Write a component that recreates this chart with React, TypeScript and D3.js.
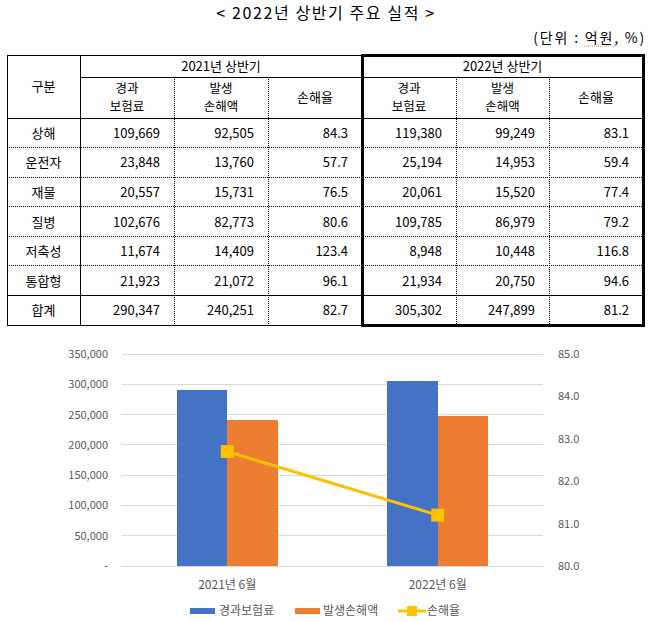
import React from 'react';
import * as d3 from 'd3';

const categories = ['상해', '운전자', '재물', '질병', '저축성', '통합형', '합계'];
const premium2021 = [109669, 23848, 20557, 102676, 11674, 21923, 290347];
const loss2021 = [92505, 13760, 15731, 82773, 14409, 21072, 240251];
const ratio2021 = [84.3, 57.7, 76.5, 80.6, 123.4, 96.1, 82.7];
const premium2022 = [119380, 25194, 20061, 109785, 8948, 21934, 305302];
const loss2022 = [99249, 14953, 15520, 86979, 10448, 20750, 247899];
const ratio2022 = [83.1, 59.4, 77.4, 79.2, 116.8, 94.6, 81.2];

const periods = ['2021년 6월', '2022년 6월'];
const chartPremium = [290347, 305302];
const chartLoss = [240251, 247899];
const chartRatio = [82.7, 81.2];

const leftTicks = [0, 50000, 100000, 150000, 200000, 250000, 300000, 350000];
const rightTicks = [80, 81, 82, 83, 84, 85];
const seriesNames = ['경과보험료', '발생손해액', '손해율'];

const FONT = "'Noto Sans CJK KR', 'Noto Sans', sans-serif";
const BLUE = '#4472C4';
const ORANGE = '#ED7D31';
const GOLD = '#FFC000';

export default function App() {
  const W = 652, H = 622;
  // table layout
  const colX = [7, 80, 174, 268, 362, 456, 549, 643];
  const tTop = 55, hRow1 = 77, hRow2 = 118;
  const rowH = (325 - 118) / 7;
  const rowY = (i: number) => hRow2 + i * rowH;
  const fmt = d3.format(',');
  const fmt1 = d3.format('.1f');

  const rows = categories.map((c, i) => [
    fmt(premium2021[i]), fmt(loss2021[i]), fmt1(ratio2021[i]),
    fmt(premium2022[i]), fmt(loss2022[i]), fmt1(ratio2022[i]),
  ]);

  // chart layout
  const plotL = 122, plotR = 543, plotT = 354, plotB = 566;
  const yL = d3.scaleLinear().domain([0, 350000]).range([plotB, plotT]);
  const yR = d3.scaleLinear().domain([80, 85]).range([plotB, plotT]);
  const x0 = d3.scaleBand<string>().domain(periods).range([plotL, plotR]);
  const bw = x0.bandwidth();
  const barW = bw * 0.24;
  const x1 = d3.scaleBand<string>().domain(['p', 'l']).range([bw / 2 - barW, bw / 2 + barW]);
  const line = d3.line<number>()
    .x((_, i) => (x0(periods[i]) as number) + bw / 2)
    .y((d) => yR(d));

  const dotted = '1,1';

  const twoLine = (x: number, a: string, b: string) => (
    <text x={x} y={92.5} fontSize={12.5}>
      <tspan x={x}>{a}</tspan>
      <tspan x={x} dy={18.2}>{b}</tspan>
    </text>
  );

  return (
    <svg width={W} height={H} style={{ position: 'absolute', left: 0, top: 0, background: '#fff' }} fontFamily={FONT}>
      <rect width={W} height={H} fill="#fff" />
      {/* Title */}
      <text x={326} y={19} textAnchor="middle" fontSize={16} letterSpacing={1.6} fill="#000">{'< 2022년 상반기 주요 실적 >'}</text>
      <text x={646} y={43} textAnchor="end" fontSize={14} letterSpacing={1.8} fill="#000">(단위 : 억원, %)</text>
      <line x1={584} x2={616} y1={46} y2={46} stroke="#E8A33C" strokeWidth={1} strokeDasharray="1,1" />

      {/* Table lines */}
      <g shapeRendering="crispEdges" stroke="#000">
        <line x1={colX[0]} x2={colX[4]} y1={tTop} y2={tTop} strokeWidth={1} />
        <line x1={colX[0]} x2={colX[0]} y1={tTop} y2={325} strokeWidth={1} />
        <line x1={colX[1]} x2={colX[1]} y1={tTop} y2={325} strokeWidth={1} />
        <line x1={colX[1]} x2={colX[7]} y1={hRow1} y2={hRow1} strokeWidth={1} />
        <line x1={colX[0]} x2={colX[7]} y1={hRow2} y2={hRow2} strokeWidth={1} />
        {[2, 3, 5, 6].map((k) => (
          <line key={k} x1={colX[k]} x2={colX[k]} y1={hRow1} y2={325} strokeWidth={1} strokeDasharray={dotted} />
        ))}
        {[1, 2, 3, 4, 5].map((r) => (
          <line key={r} x1={colX[0]} x2={colX[7]} y1={rowY(r)} y2={rowY(r)} strokeWidth={1} strokeDasharray={dotted} />
        ))}
        <line x1={colX[0]} x2={colX[7]} y1={rowY(6)} y2={rowY(6)} strokeWidth={1} />
        <line x1={colX[0]} x2={colX[4]} y1={325} y2={325} strokeWidth={1} />
        <rect x={colX[4]} y={tTop} width={colX[7] - colX[4]} height={325 - tTop} fill="none" strokeWidth={3} />
      </g>

      {/* Table header text */}
      <g fontSize={13} fill="#000" textAnchor="middle">
        <text x={(colX[0] + colX[1]) / 2} y={91}>구분</text>
        <text x={(colX[1] + colX[4]) / 2} y={71}>2021년 상반기</text>
        <text x={(colX[4] + colX[7]) / 2} y={71}>2022년 상반기</text>
        {[0, 3].map((o) => (
          <g key={o}>
            {twoLine((colX[1 + o] + colX[2 + o]) / 2, '경과', '보험료')}
            {twoLine((colX[2 + o] + colX[3 + o]) / 2, '발생', '손해액')}
            <text x={(colX[3 + o] + colX[4 + o]) / 2} y={102}>손해율</text>
          </g>
        ))}
      </g>

      {/* Table body */}
      <g fontSize={13} fill="#000">
        {categories.map((c, i) => (
          <g key={c}>
            <text x={(colX[0] + colX[1]) / 2} y={rowY(i) + rowH / 2 + 5} textAnchor="middle">{c}</text>
            {rows[i].map((v, k) => (
              <text key={k} x={colX[k + 2] - 14} y={rowY(i) + rowH / 2 + 5} textAnchor="end">{v}</text>
            ))}
          </g>
        ))}
      </g>

      {/* Chart gridlines */}
      <g shapeRendering="crispEdges">
        {leftTicks.map((t) => (
          <line key={t} x1={plotL} x2={plotR} y1={yL(t)} y2={yL(t)} stroke="#D9D9D9" strokeWidth={1} />
        ))}
      </g>
      {/* Left axis labels */}
      <g fontSize={11} fill="#595959" textAnchor="end">
        {leftTicks.map((t) => (
          <text key={t} x={108} y={yL(t) + 4}>{t === 0 ? '-' : fmt(t)}</text>
        ))}
      </g>
      {/* Right axis labels */}
      <g fontSize={11} fill="#595959" textAnchor="start">
        {rightTicks.map((t) => (
          <text key={t} x={558} y={yR(t) + 4}>{fmt1(t)}</text>
        ))}
      </g>

      {/* Bars */}
      <g shapeRendering="crispEdges">
        {periods.map((p, i) => (
          <g key={p} transform={`translate(${x0(p)},0)`}>
            <rect x={x1('p')} y={yL(chartPremium[i])} width={x1.bandwidth()} height={plotB - yL(chartPremium[i])} fill={BLUE} />
            <rect x={x1('l')} y={yL(chartLoss[i])} width={x1.bandwidth()} height={plotB - yL(chartLoss[i])} fill={ORANGE} />
          </g>
        ))}
      </g>

      {/* Line */}
      <path d={line(chartRatio) || ''} fill="none" stroke={GOLD} strokeWidth={3} />
      {chartRatio.map((r, i) => (
        <rect key={i} x={(x0(periods[i]) as number) + bw / 2 - 6.5} y={yR(r) - 6.5} width={13} height={13} fill={GOLD} />
      ))}

      {/* X labels */}
      <g fontSize={12} fill="#595959" textAnchor="middle">
        {periods.map((p) => (
          <text key={p} x={(x0(p) as number) + bw / 2} y={589}>{p}</text>
        ))}
      </g>

      {/* Legend */}
      <g fontSize={12} fill="#595959">
        <rect x={190} y={608} width={25} height={6} fill={BLUE} />
        <text x={219} y={615}>{seriesNames[0]}</text>
        <rect x={295} y={608} width={25} height={6} fill={ORANGE} />
        <text x={323} y={615}>{seriesNames[1]}</text>
        <line x1={398} x2={426} y1={611} y2={611} stroke={GOLD} strokeWidth={3} />
        <rect x={407} y={606} width={10} height={10} fill={GOLD} />
        <text x={427} y={615}>{seriesNames[2]}</text>
      </g>
    </svg>
  );
}
